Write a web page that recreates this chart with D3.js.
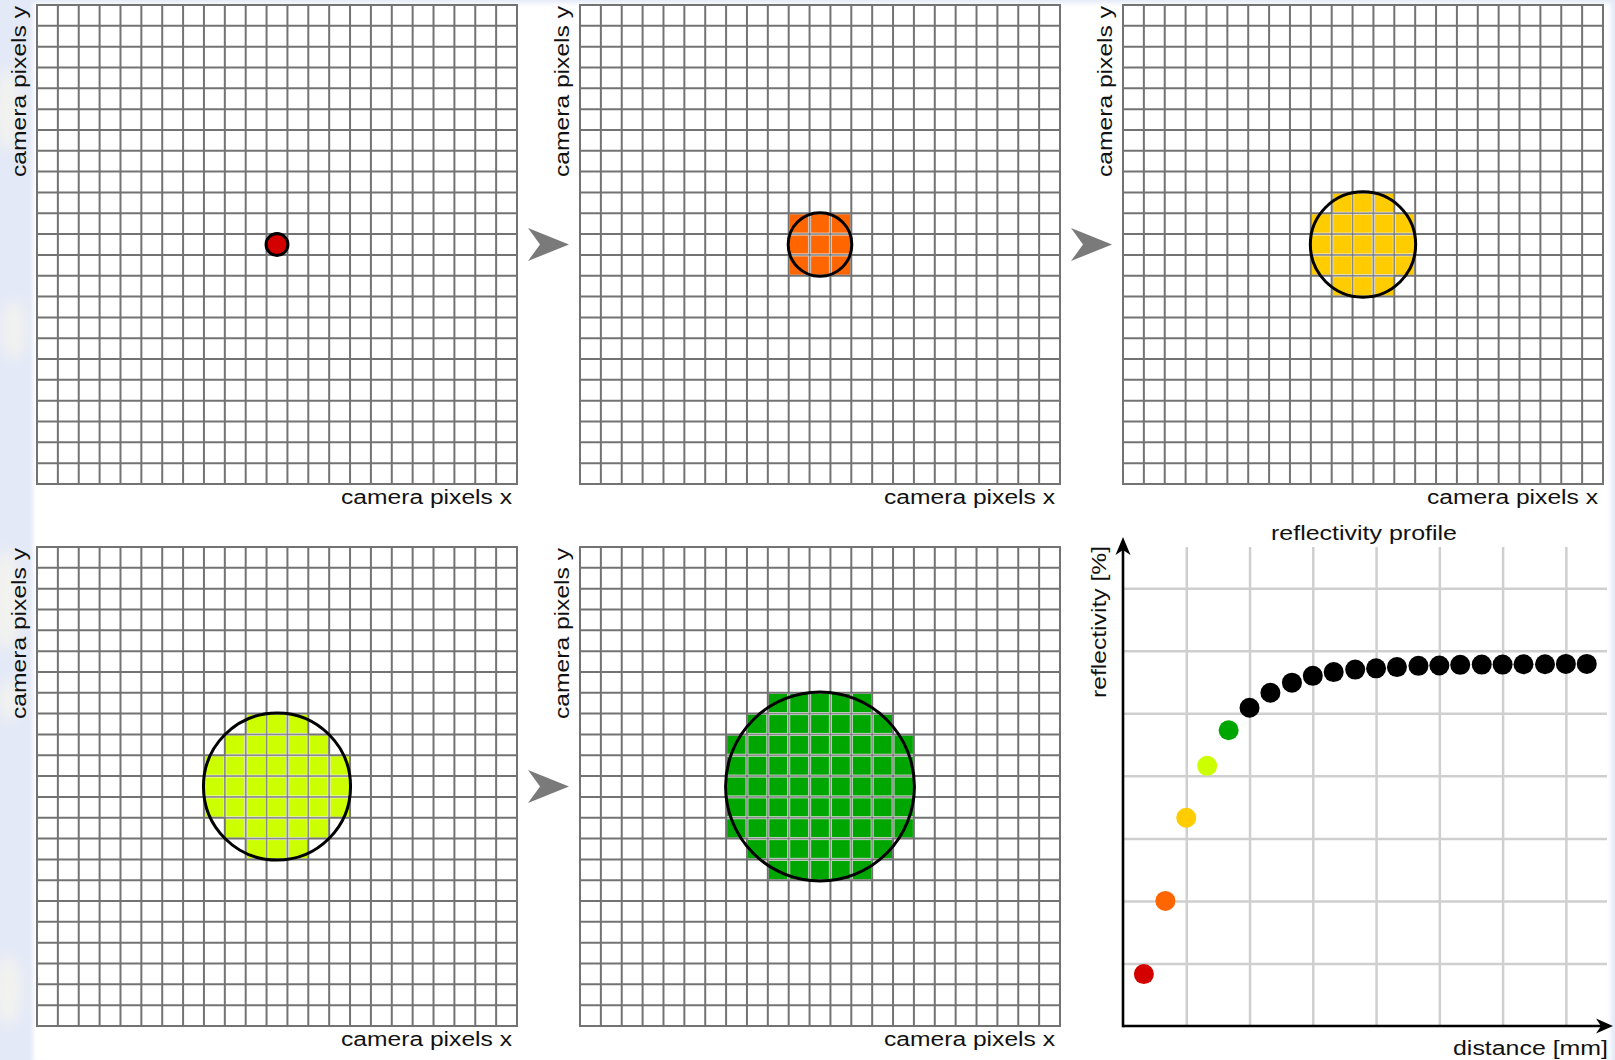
<!DOCTYPE html>
<html>
<head>
<meta charset="utf-8">
<script src="https://cdn.jsdelivr.net/npm/d3@7"></script>
<style>
  html, body { margin: 0; padding: 0; background: #ffffff; }
  svg { display: block; }
</style>
</head>
<body>
<svg id="fig" width="1615" height="1060"></svg>
<script>
// ---- data ----------------------------------------------------------------
// Laser spot growing on the camera sensor: colour and radius (in camera pixels)
const spotColors = ["#d40000", "#ff6600", "#ffcc00", "#ccff00", "#00a600"];
const spotRadii = [0.5, 1.5, 2.5, 3.5, 4.5];
const sensorPixels = 23;           // pixels per side of the sensor patch
const spotCenterPixel = 11;        // spot centred on pixel (11, 11)

// Reflectivity profile: distance [mm] and reflectivity (arbitrary grid units)
const distanceMm = [0.33, 0.67, 1.00, 1.33, 1.67, 2.00, 2.33, 2.67, 3.00, 3.33, 3.67,
                    4.00, 4.33, 4.67, 5.00, 5.33, 5.67, 6.00, 6.33, 6.67, 7.00, 7.33];
const reflectivity = [0.83, 2.00, 3.33, 4.16, 4.73, 5.09, 5.33, 5.49, 5.60, 5.66, 5.70,
                      5.72, 5.74, 5.76, 5.765, 5.775, 5.78, 5.78, 5.785, 5.785, 5.79, 5.79];
const profileGridTicks = [1, 2, 3, 4, 5, 6, 7];

// Text
const labelX = "camera pixels x";
const labelY = "camera pixels y";
const profileTitle = "reflectivity profile";
const profileXLabel = "distance [mm]";
const profileYLabel = "reflectivity [%]";

// ---- layout ---------------------------------------------------------------
const W = 1615, H = 1060;
const panelW = 480, panelH = 479;
const panelOrigins = [[37, 5], [580, 5], [1123, 5], [37, 547], [580, 547]];
const font = "'Liberation Sans', Arial, Helvetica, sans-serif";

const svg = d3.select("#fig");

// widened sans text, as used throughout the figure
function label(sel, str, width) {
  return sel.attr("font-family", font).attr("font-size", 20).attr("fill", "#111")
    .attr("textLength", width).attr("lengthAdjust", "spacingAndGlyphs")
    .text(str);
}

// soft background
const defs = svg.append("defs");
defs.append("filter").attr("id", "soft").attr("x", "-20%").attr("y", "-20%")
  .attr("width", "140%").attr("height", "140%")
  .append("feGaussianBlur").attr("stdDeviation", 2);
defs.append("filter").attr("id", "haze").attr("x", "-100%").attr("y", "-100%")
  .attr("width", "300%").attr("height", "300%")
  .append("feGaussianBlur").attr("stdDeviation", 7);

svg.append("rect").attr("width", W).attr("height", H).attr("fill", "#e3e9f7");
const haze = [[8, 110, 14, 40], [14, 330, 12, 30], [6, 600, 16, 50], [10, 700, 12, 20], [8, 990, 14, 35]];
svg.append("g").selectAll("ellipse").data(haze).join("ellipse")
  .attr("cx", d => d[0]).attr("cy", d => d[1]).attr("rx", d => d[2]).attr("ry", d => d[3])
  .attr("fill", "#f2f2ef").attr("filter", "url(#haze)");
svg.append("rect").attr("x", 33).attr("y", 3).attr("width", 1578).attr("height", H)
  .attr("fill", "#ffffff").attr("filter", "url(#soft)");

// ---- sensor panels ----------------------------------------------------------
const gridColor = "#737373";

spotRadii.forEach((radius, i) => {
  const [ox, oy] = panelOrigins[i];
  const g = svg.append("g").attr("transform", `translate(${ox},${oy})`);
  const x = d3.scaleLinear().domain([0, sensorPixels]).range([0, panelW]);
  const y = d3.scaleLinear().domain([0, sensorPixels]).range([0, panelH]);
  const c = spotCenterPixel + 0.5;
  const isLit = (col, r) => Math.hypot(col + 0.5 - c, r + 0.5 - c) <= radius;

  // pixels lit by the spot (pixel centre inside the spot)
  if (i > 0) {
    const lit = [];
    for (let r = 0; r < sensorPixels; r++) {
      for (let col = 0; col < sensorPixels; col++) {
        if (isLit(col, r)) lit.push([col, r]);
      }
    }
    g.append("g").selectAll("rect").data(lit).join("rect")
      .attr("x", d => x(d[0]) + 1).attr("y", d => y(d[1]) + 1)
      .attr("width", d => x(d[0] + 1) - x(d[0]) - 2)
      .attr("height", d => y(d[1] + 1) - y(d[1]) - 2)
      .attr("fill", spotColors[i]);
  }

  // pixel grid
  const lines = d3.range(sensorPixels + 1);
  g.append("g").selectAll("line").data(lines).join("line")
    .attr("x1", d => x(d)).attr("x2", d => x(d))
    .attr("y1", y(0)).attr("y2", y(sensorPixels))
    .attr("stroke", gridColor).attr("stroke-width", 2);
  g.append("g").selectAll("line").data(lines).join("line")
    .attr("y1", d => y(d)).attr("y2", d => y(d))
    .attr("x1", x(0) - 1).attr("x2", x(sensorPixels) + 1)
    .attr("stroke", gridColor).attr("stroke-width", 2);

  // lighter grid between lit pixels
  if (i > 0) {
    const segs = [];
    for (let r = 0; r < sensorPixels; r++) {
      for (let col = 1; col < sensorPixels; col++) {
        if (isLit(col - 1, r) && isLit(col, r))
          segs.push([x(col), y(r) + 1, x(col), y(r + 1) - 1]);
      }
    }
    for (let col = 0; col < sensorPixels; col++) {
      for (let r = 1; r < sensorPixels; r++) {
        if (isLit(col, r - 1) && isLit(col, r))
          segs.push([x(col) + 1, y(r), x(col + 1) - 1, y(r)]);
      }
    }
    g.append("g").selectAll("line").data(segs).join("line")
      .attr("x1", d => d[0]).attr("y1", d => d[1]).attr("x2", d => d[2]).attr("y2", d => d[3])
      .attr("stroke", "#ffffff").attr("stroke-opacity", 0.55).attr("stroke-width", 3.2);
    g.append("g").selectAll("line").data(segs).join("line")
      .attr("x1", d => d[0]).attr("y1", d => d[1]).attr("x2", d => d[2]).attr("y2", d => d[3])
      .attr("stroke", "#8a8a8a").attr("stroke-width", 1.4);
  }

  // spot outline
  g.append("circle")
    .attr("cx", x(c)).attr("cy", y(c))
    .attr("r", x(radius) - x(0) + 0.5)
    .attr("fill", i === 0 ? spotColors[0] : "none")
    .attr("stroke", "#000").attr("stroke-width", 3);

  // axis labels
  label(g.append("text")
    .attr("x", panelW - 176).attr("y", panelH + 20), labelX, 171);
  label(g.append("text")
    .attr("transform", "translate(-11,172) rotate(-90)"), labelY, 171);
});

// arrows between panels
const arrowPath = "M0,0 L41,16.5 L0,33 L12,16.5 Z";
[[0, 1], [1, 2], [3, 4]].forEach(([a]) => {
  const [ox, oy] = panelOrigins[a];
  svg.append("path")
    .attr("transform", `translate(${ox + panelW + 11},${oy + panelH / 2 - 16.5})`)
    .attr("d", arrowPath).attr("fill", "#7a7a7a");
});

// ---- reflectivity profile -------------------------------------------------
const px0 = 1123, px1 = 1607, py0 = 1026, py1 = 547;
const xs = d3.scaleLinear().domain([0, 7.65]).range([px0, px1]);
const ys = d3.scaleLinear().domain([0, 7.66]).range([py0, py1]);

const gx = svg.append("g").attr("transform", `translate(0,${py0})`)
  .call(d3.axisBottom(xs).tickValues(profileGridTicks).tickSize(-(py0 - py1)).tickFormat(""));
const gy = svg.append("g").attr("transform", `translate(${px0},0)`)
  .call(d3.axisLeft(ys).tickValues(profileGridTicks).tickSize(-(px1 - px0)).tickFormat(""));
[gx, gy].forEach(a => {
  a.select(".domain").remove();
  a.selectAll(".tick line").attr("stroke", "#cfcfcf").attr("stroke-width", 2.5);
});

// axes with arrowheads
svg.append("line").attr("x1", xs(0)).attr("x2", 1602).attr("y1", ys(0)).attr("y2", ys(0))
  .attr("stroke", "#000").attr("stroke-width", 2.6);
svg.append("line").attr("x1", xs(0)).attr("x2", xs(0)).attr("y1", ys(0) + 1.3).attr("y2", 548)
  .attr("stroke", "#000").attr("stroke-width", 2.6);
svg.append("path")
  .attr("d", `M1613,${ys(0)} L1596,${ys(0) - 7.5} L1601,${ys(0)} L1596,${ys(0) + 7.5} Z`)
  .attr("fill", "#000");
svg.append("path")
  .attr("d", `M${xs(0)},537 L${xs(0) - 7.5},555 L${xs(0)},550 L${xs(0) + 7.5},555 Z`)
  .attr("fill", "#000");

// profile points
svg.append("g").selectAll("circle")
  .data(distanceMm.map((d, i) => ({ d, r: reflectivity[i], color: spotColors[i] || "#000" })))
  .join("circle")
  .attr("cx", p => xs(p.d)).attr("cy", p => ys(p.r))
  .attr("r", 10).attr("fill", p => p.color);

// titles
label(svg.append("text").attr("x", 1364 - 93).attr("y", 540), profileTitle, 186);
label(svg.append("text").attr("x", 1608 - 155).attr("y", 1055), profileXLabel, 155);
label(svg.append("text").attr("transform", "translate(1106,698) rotate(-90)"), profileYLabel, 152);
</script>
</body>
</html>
